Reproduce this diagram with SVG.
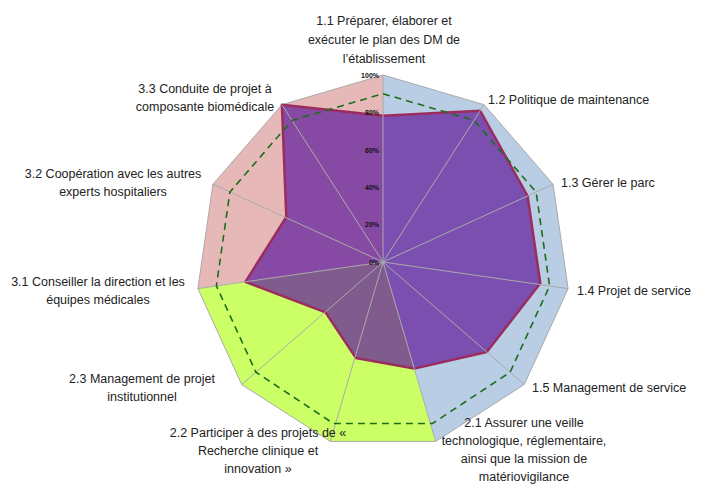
<svg xmlns="http://www.w3.org/2000/svg" width="705" height="495" viewBox="0 0 705 495">
<style>
.l{font-family:"Liberation Sans",Arial,sans-serif;font-size:12.5px;fill:#222}
.m{text-anchor:middle}
.p{font-family:"Liberation Sans",Arial,sans-serif;font-size:7px;font-weight:bold;text-anchor:end;fill:#111}
.sp{stroke:#aaa;stroke-width:1;fill:none}
</style>
<rect width="705" height="495" fill="#fff"/>
<g id="background">
<polygon points="383,262 383,75 484.1,104.7 553.1,184.3 568.1,288.6 524.3,384.5 435.7,441.4" fill="#B9CDE5"/>
<polygon points="383,262 435.7,441.4 330.3,441.4 241.7,384.5 197.9,288.6" fill="#CCFF66"/>
<polygon points="383,262 197.9,288.6 212.9,184.3 281.9,104.7 383,75" fill="#E6B9B8"/>
<polygon class="sp" points="383,75 484.1,104.7 553.1,184.3 568.1,288.6 524.3,384.5 435.7,441.4 330.3,441.4 241.7,384.5 197.9,288.6 212.9,184.3 281.9,104.7"/>
</g>
<g id="data">
<polygon points="383,115.7 480.2,110.8 527.6,196 540.3,283.3 486.7,352 414.3,368.6 355.8,357.9 325.5,312.3 245.4,281.8 286.3,217 281.9,104.7" fill="#65239D" fill-opacity="0.74" stroke="#9B2C5E" stroke-width="2.5" stroke-linejoin="round"/>
</g>
<g id="spokes" class="sp">
<path d="M383,262L383,75M383,262L484.1,104.7M383,262L553.1,184.3M383,262L568.1,288.6M383,262L524.3,384.5M383,262L435.7,441.4M383,262L330.3,441.4M383,262L241.7,384.5M383,262L197.9,288.6M383,262L212.9,184.3M383,262L281.9,104.7"/>
</g>
<g id="connectors">
<polygon points="383,93.7 474,120.4 536.1,192 549.6,285.9 510.1,372.2 432.5,423.5 333.5,423.5 255.9,372.2 216.4,285.9 229.9,192 292,120.4" fill="none" stroke="#1a6e1a" stroke-width="1.6" stroke-dasharray="7,5"/>
</g>
<g id="percent">
<text class="p" x="379" y="78">100%</text>
<text class="p" x="379" y="115">80%</text>
<text class="p" x="379" y="153">60%</text>
<text class="p" x="379" y="190">40%</text>
<text class="p" x="379" y="227">20%</text>
<text class="p" x="379" y="265">0%</text>
</g>
<g id="labels">
<text class="l m" x="384" y="25">1.1 Préparer, élaborer et</text>
<text class="l m" x="384" y="44">exécuter le plan des DM de</text>
<text class="l m" x="384" y="63">l’établissement</text>
<text class="l" x="488" y="104">1.2 Politique de maintenance</text>
<text class="l" x="561" y="187">1.3 Gérer le parc</text>
<text class="l" x="577" y="295">1.4 Projet de service</text>
<text class="l" x="532" y="392">1.5 Management de service</text>
<text class="l m" x="524" y="427">2.1 Assurer une veille</text>
<text class="l m" x="524" y="445">technologique, réglementaire,</text>
<text class="l m" x="524" y="463">ainsi que la mission de</text>
<text class="l m" x="524" y="481">matériovigilance</text>
<text class="l m" x="258" y="437">2.2 Participer à des projets de «</text>
<text class="l m" x="258" y="455">Recherche clinique et</text>
<text class="l m" x="258" y="473">innovation »</text>
<text class="l m" x="142" y="383">2.3 Management de projet</text>
<text class="l m" x="142" y="401">institutionnel</text>
<text class="l m" x="98" y="286">3.1 Conseiller la direction et les</text>
<text class="l m" x="98" y="304">équipes médicales</text>
<text class="l m" x="113" y="178">3.2 Coopération avec les autres</text>
<text class="l m" x="113" y="196">experts hospitaliers</text>
<text class="l m" x="205" y="93">3.3 Conduite de projet à</text>
<text class="l m" x="205" y="111">composante biomédicale</text>
</g>
</svg>
